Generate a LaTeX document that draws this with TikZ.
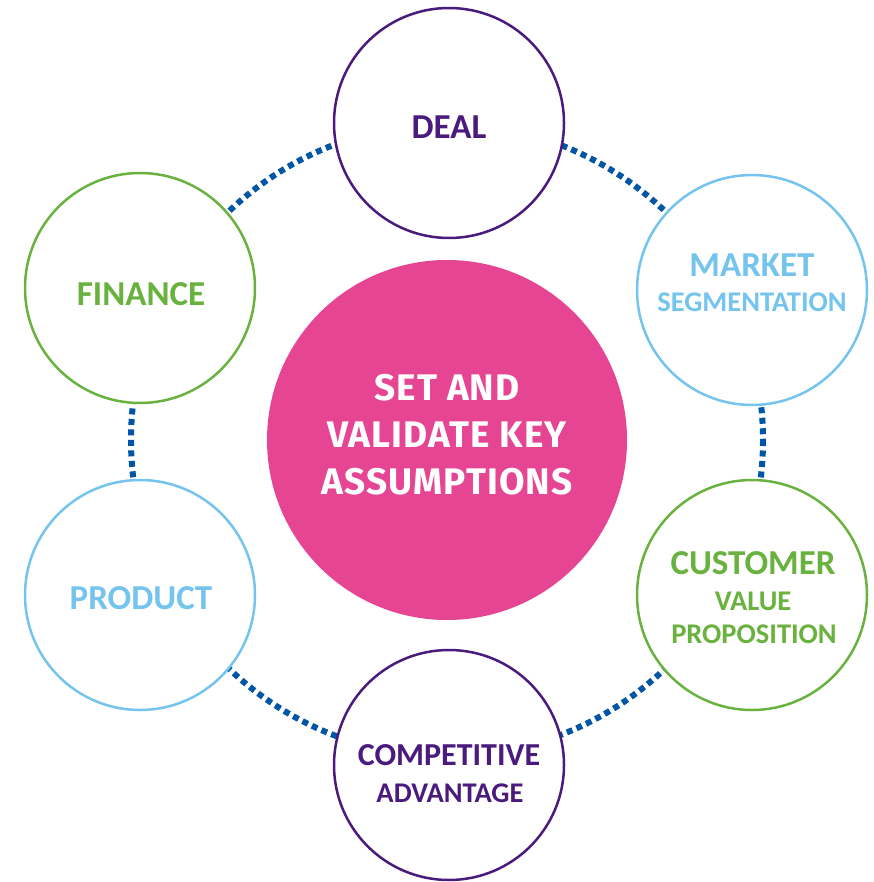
\documentclass[tikz,border=0pt]{standalone}
\usepackage{fontspec}
\setmainfont{Carlito}
\newfontfamily\centerfont[LetterSpace=3]{Fira Sans}
\definecolor{cpurple}{HTML}{4A1A7C}
\definecolor{cblue}{HTML}{74C4EE}
\definecolor{cgreen}{HTML}{6AB23F}
\definecolor{cpink}{HTML}{E54593}
\definecolor{cdots}{HTML}{0055A5}
\tikzset{
  outer/.style={circle, draw=#1, line width=2.5pt, fill=white, minimum size=230pt, inner sep=0pt},
  bigtxt/.style={text=#1, font=\bfseries\fontsize{35}{40}\selectfont, inner sep=0pt},
  smalltxt/.style={text=#1, font=\bfseries\fontsize{28.5}{32}\selectfont, inner sep=0pt},
  ring/.style={draw=cdots, line width=6pt, dash pattern=on 6pt off 4.5pt}
}
\begin{document}
\begin{tikzpicture}[x=1pt,y=-1pt]
\useasboundingbox (0,0) rectangle (873,882);
% dotted ring linking the outer circles
\draw[ring] (447,440) circle (316);
% central circle
\node[circle, fill=cpink, minimum size=360pt, inner sep=0pt] (core) at (447,440) {};
\node[text=white, align=center, inner sep=0pt,
      font=\centerfont\bfseries\fontsize{37}{47}\selectfont] (coretxt) at (447,434.5)
      {SET AND\\VALIDATE KEY\\ASSUMPTIONS};
% outer circles
\node[outer=cpurple] (deal) at (449,123) {};
\node[outer=cblue]   (market) at (752,290) {};
\node[outer=cgreen]  (customer) at (752,595) {};
\node[outer=cpurple] (competitive) at (449,765) {};
\node[outer=cblue]   (product) at (140,595) {};
\node[outer=cgreen]  (finance) at (140,288) {};
% labels
\node[bigtxt=cpurple] (dealtxt) at (449,127) {DEAL};
\node[bigtxt=cblue] (markettxt) at (752,265) {MARKET};
\node[smalltxt=cblue] (segtxt) at (752,302) {SEGMENTATION};
\node[bigtxt=cgreen] (custtxt) at (753,563) {CUSTOMER};
\node[smalltxt=cgreen] (valtxt) at (753,601) {VALUE};
\node[smalltxt=cgreen] (proptxt) at (754,634) {PROPOSITION};
\node[text=cpurple, font=\bfseries\fontsize{32}{36}\selectfont, inner sep=0pt] (comptxt) at (449,755) {COMPETITIVE};
\node[smalltxt=cpurple] (advtxt) at (450,793) {ADVANTAGE};
\node[bigtxt=cblue] (prodtxt) at (141,598) {PRODUCT};
\node[bigtxt=cgreen] (fintxt) at (141,294) {FINANCE};
\end{tikzpicture}
\end{document}
